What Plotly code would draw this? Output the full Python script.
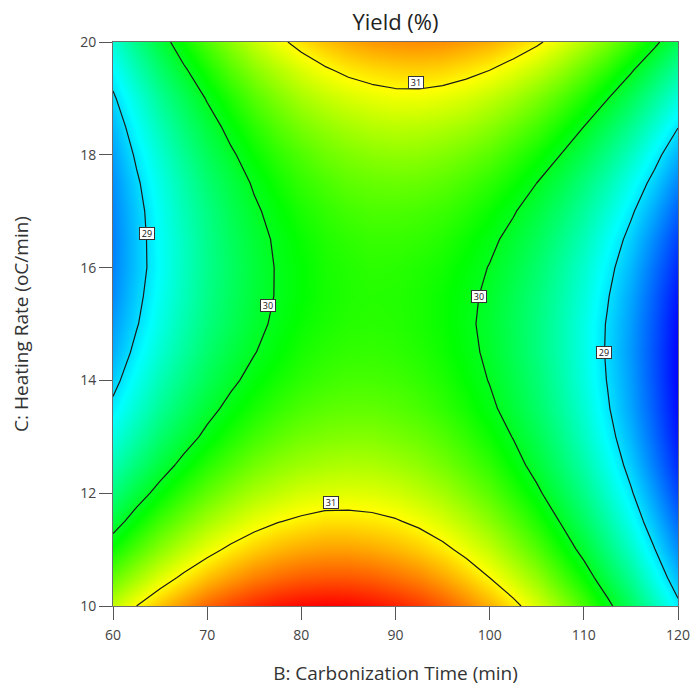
import plotly.graph_objects as go

# B: Carbonization Time (min), every 2.5 min
carbonization_time = [60, 62.5, 65, 67.5, 70, 72.5, 75, 77.5, 80, 82.5, 85, 87.5, 90,
                      92.5, 95, 97.5, 100, 102.5, 105, 107.5, 110, 112.5, 115, 117.5, 120]
# C: Heating Rate (oC/min), every 0.5
heating_rate = [10, 10.5, 11, 11.5, 12, 12.5, 13, 13.5, 14, 14.5, 15,
                15.5, 16, 16.5, 17, 17.5, 18, 18.5, 19, 19.5, 20]

# Yield (%), one row per heating rate
yield_grid = [
    [30.78, 31.00, 31.19, 31.36, 31.51, 31.63, 31.72, 31.79, 31.83, 31.85, 31.84, 31.80, 31.74, 31.66, 31.55, 31.41, 31.25, 31.07, 30.86, 30.62, 30.36, 30.07, 29.76, 29.42, 29.06],
    [30.46, 30.68, 30.88, 31.05, 31.20, 31.32, 31.42, 31.49, 31.54, 31.56, 31.56, 31.53, 31.47, 31.40, 31.29, 31.16, 31.00, 30.82, 30.62, 30.38, 30.13, 29.84, 29.54, 29.20, 28.84],
    [30.16, 30.39, 30.59, 30.77, 30.92, 31.05, 31.15, 31.23, 31.28, 31.31, 31.31, 31.28, 31.23, 31.16, 31.06, 30.93, 30.78, 30.60, 30.40, 30.17, 29.92, 29.64, 29.34, 29.01, 28.66],
    [29.88, 30.12, 30.33, 30.51, 30.67, 30.80, 30.91, 30.99, 31.04, 31.08, 31.08, 31.06, 31.02, 30.95, 30.85, 30.73, 30.58, 30.41, 30.21, 29.99, 29.74, 29.47, 29.17, 28.85, 28.50],
    [29.64, 29.88, 30.09, 30.28, 30.44, 30.58, 30.69, 30.77, 30.84, 30.87, 30.88, 30.87, 30.83, 30.76, 30.67, 30.55, 30.41, 30.24, 30.05, 29.83, 29.59, 29.32, 29.03, 28.71, 28.36],
    [29.42, 29.66, 29.88, 30.07, 30.24, 30.38, 30.50, 30.59, 30.65, 30.69, 30.71, 30.70, 30.66, 30.60, 30.51, 30.40, 30.27, 30.10, 29.91, 29.70, 29.46, 29.20, 28.91, 28.59, 28.25],
    [29.23, 29.47, 29.70, 29.89, 30.06, 30.21, 30.33, 30.43, 30.50, 30.54, 30.56, 30.56, 30.52, 30.47, 30.39, 30.28, 30.15, 29.99, 29.81, 29.60, 29.36, 29.10, 28.82, 28.51, 28.17],
    [29.06, 29.31, 29.54, 29.74, 29.92, 30.07, 30.19, 30.29, 30.37, 30.42, 30.44, 30.44, 30.41, 30.36, 30.28, 30.18, 30.05, 29.90, 29.72, 29.52, 29.29, 29.03, 28.75, 28.45, 28.12],
    [28.92, 29.18, 29.41, 29.61, 29.79, 29.95, 30.08, 30.18, 30.26, 30.32, 30.35, 30.35, 30.33, 30.28, 30.21, 30.11, 29.99, 29.84, 29.67, 29.47, 29.24, 28.99, 28.72, 28.42, 28.09],
    [28.80, 29.07, 29.30, 29.51, 29.70, 29.86, 29.99, 30.10, 30.19, 30.25, 30.28, 30.29, 30.27, 30.23, 30.16, 30.07, 29.95, 29.80, 29.63, 29.44, 29.22, 28.97, 28.70, 28.41, 28.09],
    [28.72, 28.98, 29.22, 29.44, 29.63, 29.79, 29.93, 30.05, 30.14, 30.20, 30.24, 30.25, 30.24, 30.20, 30.14, 30.05, 29.93, 29.79, 29.63, 29.44, 29.22, 28.98, 28.72, 28.43, 28.11],
    [28.65, 28.93, 29.17, 29.39, 29.59, 29.76, 29.90, 30.02, 30.11, 30.18, 30.22, 30.24, 30.23, 30.20, 30.14, 30.06, 29.95, 29.81, 29.65, 29.47, 29.26, 29.02, 28.76, 28.47, 28.16],
    [28.62, 28.89, 29.14, 29.37, 29.57, 29.74, 29.89, 30.02, 30.11, 30.19, 30.23, 30.26, 30.25, 30.22, 30.17, 30.09, 29.99, 29.86, 29.70, 29.52, 29.31, 29.08, 28.83, 28.54, 28.24],
    [28.61, 28.89, 29.15, 29.37, 29.58, 29.76, 29.91, 30.04, 30.14, 30.22, 30.27, 30.30, 30.30, 30.28, 30.23, 30.15, 30.05, 29.93, 29.78, 29.60, 29.40, 29.17, 28.92, 28.64, 28.34],
    [28.63, 28.91, 29.17, 29.41, 29.61, 29.80, 29.96, 30.09, 30.20, 30.28, 30.34, 30.37, 30.37, 30.35, 30.31, 30.24, 30.14, 30.02, 29.88, 29.71, 29.51, 29.29, 29.04, 28.77, 28.47],
    [28.67, 28.96, 29.22, 29.46, 29.68, 29.86, 30.03, 30.17, 30.28, 30.36, 30.43, 30.46, 30.47, 30.46, 30.42, 30.35, 30.26, 30.15, 30.00, 29.84, 29.64, 29.43, 29.18, 28.92, 28.62],
    [28.74, 29.04, 29.30, 29.55, 29.77, 29.96, 30.13, 30.27, 30.38, 30.48, 30.54, 30.58, 30.60, 30.59, 30.55, 30.49, 30.41, 30.29, 30.16, 30.00, 29.81, 29.60, 29.36, 29.09, 28.80],
    [28.84, 29.14, 29.41, 29.66, 29.88, 30.08, 30.25, 30.40, 30.52, 30.61, 30.68, 30.73, 30.75, 30.74, 30.71, 30.66, 30.58, 30.47, 30.34, 30.18, 30.00, 29.79, 29.56, 29.30, 29.01],
    [28.96, 29.26, 29.54, 29.79, 30.02, 30.22, 30.40, 30.55, 30.68, 30.78, 30.85, 30.90, 30.93, 30.93, 30.90, 30.85, 30.77, 30.67, 30.54, 30.39, 30.21, 30.01, 29.78, 29.53, 29.25],
    [29.11, 29.42, 29.70, 29.96, 30.19, 30.40, 30.58, 30.73, 30.86, 30.97, 31.05, 31.10, 31.13, 31.14, 31.12, 31.07, 31.00, 30.90, 30.78, 30.63, 30.45, 30.26, 30.03, 29.78, 29.51],
    [29.28, 29.60, 29.88, 30.15, 30.38, 30.59, 30.78, 30.94, 31.08, 31.19, 31.27, 31.33, 31.36, 31.37, 31.36, 31.31, 31.25, 31.15, 31.04, 30.89, 30.72, 30.53, 30.31, 30.06, 29.79],
]

x_ticks = [60, 70, 80, 90, 100, 110, 120]
y_ticks = [10, 12, 14, 16, 18, 20]

# contour-level labels: level text and where each label sits on its line (B, C)
label_text = ["29", "30", "31", "31", "30", "29"]
label_b = [63.6, 76.5, 83.2, 92.2, 98.9, 112.1]
label_c = [16.6, 15.33, 11.83, 19.28, 15.49, 14.5]

colorscale = [
    [0.0, "rgb(0,0,255)"],
    [0.276, "rgb(0,255,255)"],
    [0.54, "rgb(0,255,0)"],
    [0.77, "rgb(255,255,0)"],
    [1.0, "rgb(255,0,0)"],
]

fig = go.Figure()
fig.add_trace(go.Contour(
    x=carbonization_time,
    y=heating_rate,
    z=yield_grid,
    colorscale=colorscale,
    zmin=28.08,
    zmax=31.85,
    showscale=False,
    contours=dict(coloring="heatmap", start=29, end=31, size=1, showlabels=False),
    line=dict(color="#1a1a1a", width=1.2, smoothing=0),
    hoverinfo="skip",
))

for t, b, c in zip(label_text, label_b, label_c):
    fig.add_annotation(
        x=b, y=c, xref="x", yref="y", text=t, showarrow=False,
        font=dict(family="Open Sans", size=9, color="#111111"),
        bgcolor="white", bordercolor="#333333", borderwidth=1, borderpad=1,
        width=12, height=9,
    )

axis_common = dict(
    showgrid=False, zeroline=False, automargin=False, ticklabeloverflow="allow",
    showline=True, linecolor="#6e6e6e", linewidth=1, mirror=True,
    ticks="outside", ticklen=13, tickcolor="#555555", tickwidth=1,
    tickfont=dict(family="Open Sans", size=14, color="#444444"),
)

fig.update_layout(
    width=690, height=686,
    margin=dict(l=113, r=12, t=42, b=80),
    paper_bgcolor="white", plot_bgcolor="white",
    font=dict(family="Open Sans", color="#222222"),
    title=dict(text="Yield (%)", x=0.5, xref="paper", xanchor="center",
               y=1 - 22 / 686, yref="container", yanchor="middle",
               font=dict(size=22, color="#222222", family="Open Sans")),
    xaxis=dict(range=[60, 120], tickvals=x_ticks, ticklabelstandoff=3,
               title=dict(text="B: Carbonization Time (min)", standoff=30,
                          font=dict(size=19, color="#333333")),
               **axis_common),
    yaxis=dict(range=[10, 20], tickvals=y_ticks,
               title=dict(text="C: Heating Rate (oC/min)", standoff=46,
                          font=dict(size=19, color="#333333")),
               **axis_common),
)

fig.write_html("out.html")
